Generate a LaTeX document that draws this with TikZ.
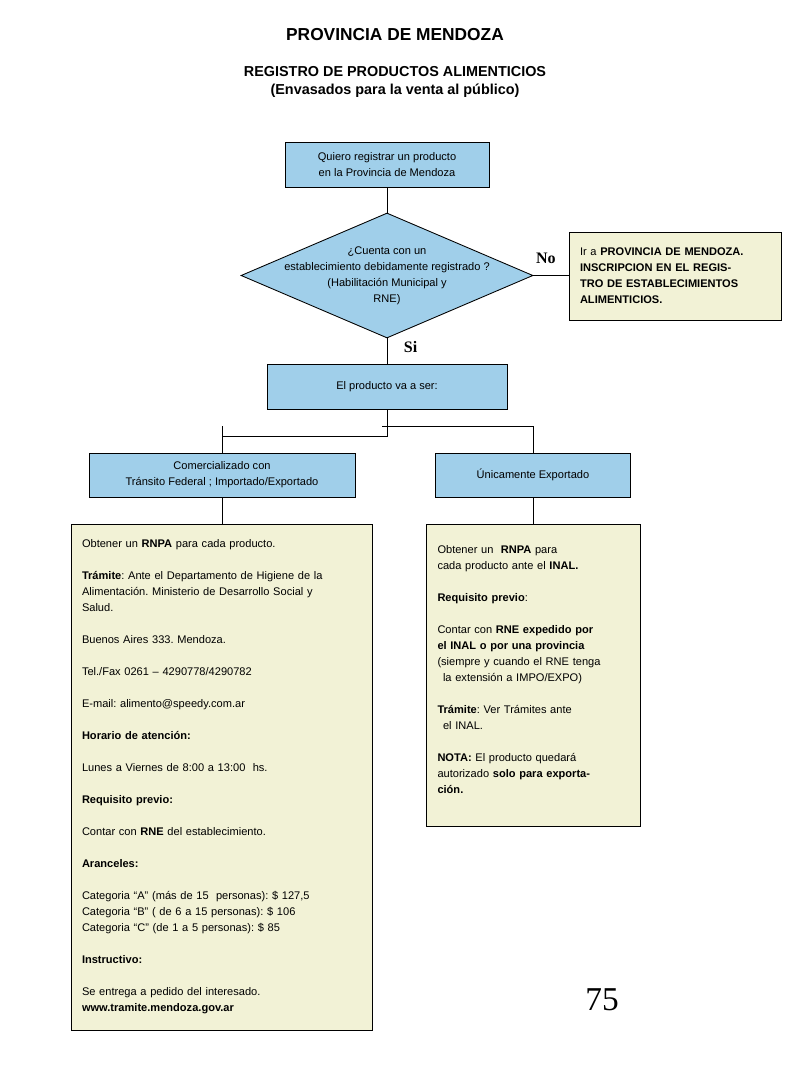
\documentclass[tikz,border=0pt]{standalone}
\usepackage{fontspec}
\setmainfont{Liberation Sans}
\newfontfamily\serifnum{Liberation Serif}
\usetikzlibrary{shapes.geometric}
\frenchspacing

\definecolor{boxblue}{RGB}{160,207,234}
\definecolor{boxyellow}{RGB}{242,242,214}

\tikzset{
  bluebox/.style={draw, line width=0.65pt, fill=boxblue, rectangle, inner sep=0pt, align=center,
    font=\fontsize{8.3}{12}\selectfont},
  infobox/.style={draw, line width=0.65pt, fill=boxyellow, rectangle, inner xsep=8pt, inner ysep=0pt,
    align=left, font=\fontsize{8.3}{12}\selectfont},
  link/.style={line width=0.65pt}
}

\begin{document}
\begin{tikzpicture}[x=0.75pt, y=-0.75pt]
  \useasboundingbox (0,0) rectangle (800,1066);

  % titles
  \node[font=\fontsize{13}{15}\selectfont\bfseries] (title) at (395,35) {PROVINCIA DE MENDOZA};
  \node[font=\fontsize{10.8}{13.5}\selectfont\bfseries, align=center] (subtitle) at (395,82)
    {REGISTRO DE PRODUCTOS ALIMENTICIOS\\(Envasados para la venta al público)};

  % boxes
  \node[bluebox, minimum width=204*0.75pt, minimum height=45*0.75pt] (start) at (387,164.5)
    {Quiero registrar un producto\\en la Provincia de Mendoza};
  \node[draw, line width=0.65pt, fill=boxblue, diamond, inner sep=0pt,
    minimum width=292*0.75pt, minimum height=125*0.75pt] (ask) at (387,275.5) {};
  \node[align=center, font=\fontsize{8.3}{12}\selectfont] (asktext) at (ask.center)
    {¿Cuenta con un\\establecimiento debidamente registrado ?\\(Habilitación Municipal y\\RNE)};
  \node[infobox, text width=191*0.75pt, minimum height=88*0.75pt, font=\fontsize{8.3}{12}\selectfont\bfseries]
    (nobox) at (675.5,276)
    {{\mdseries Ir a} PROVINCIA DE MENDOZA.\\INSCRIPCION EN EL REGIS-\\TRO DE ESTABLECIMIENTOS\\ALIMENTICIOS.};
  \node[bluebox, minimum width=240*0.75pt, minimum height=45*0.75pt] (kind) at (387,386.5)
    {El producto va a ser:};
  \node[bluebox, minimum width=266*0.75pt, minimum height=44*0.75pt] (fed) at (222,475)
    {Comercializado con\\Tránsito Federal ; Importado/Exportado};
  \node[bluebox, minimum width=195*0.75pt, minimum height=44*0.75pt] (exp) at (533,475)
    {Únicamente Exportado};

  \node[infobox, text width=280*0.75pt, minimum height=506*0.75pt] (fedinfo) at (222,777)
    {Obtener un \textbf{RNPA} para cada producto.\\[12pt]
     \textbf{Trámite}: Ante el Departamento de Higiene de la\\
     Alimentación. Ministerio de Desarrollo Social y\\
     Salud.\\[12pt]
     Buenos Aires 333. Mendoza.\\[12pt]
     Tel./Fax 0261 – 4290778/4290782\\[12pt]
     E-mail: alimento@speedy.com.ar\\[12pt]
     \textbf{Horario de atención:}\\[12pt]
     Lunes a Viernes de 8:00 a 13:00~ hs.\\[12pt]
     \textbf{Requisito previo:}\\[12pt]
     Contar con \textbf{RNE} del establecimiento.\\[12pt]
     \textbf{Aranceles:}\\[12pt]
     Categoria “A” (más de 15~ personas): \$ 127,5\\
     Categoria “B” ( de 6 a 15 personas): \$ 106\\
     Categoria “C” (de 1 a 5 personas): \$ 85\\[12pt]
     \textbf{Instructivo:}\\[12pt]
     Se entrega a pedido del interesado.\\
     \textbf{www.tramite.mendoza.gov.ar}};
  \node[infobox, text width=192*0.75pt, minimum height=302*0.75pt] (expinfo) at (533.5,675)
    {Obtener un~ \textbf{RNPA} para\\
     cada producto ante el \textbf{INAL.}\\[12pt]
     \textbf{Requisito previo}:\\[12pt]
     Contar con \textbf{RNE expedido por}\\
     \textbf{el INAL o por una provincia}\\
     (siempre y cuando el RNE tenga\\
     \hphantom{x}la extensión a IMPO/EXPO)\\[12pt]
     \textbf{Trámite}: Ver Trámites ante\\
     \hphantom{x}el INAL.\\[12pt]
     \textbf{NOTA:} El producto quedará\\
     autorizado \textbf{solo para exporta-}\\
     \textbf{ción.}\\[-3pt]
     \mbox{}};

  % joints
  \coordinate (midl) at (387,436);
  \coordinate (left) at (222,436);
  \coordinate (lefttop) at (222,426);
  \coordinate (midr) at (382,426);
  \coordinate (right) at (533,426);

  % arcs
  \draw[link] (start.south) -- (ask.north);
  \draw[link] (ask.east) -- (nobox.west |- ask.east) node[pos=0.35, above=5pt, font=\serifnum\fontsize{12}{14}\selectfont\bfseries] (no) {No};
  \draw[link] (ask.south) -- (kind.north) node[pos=0.35, right=9pt, font=\serifnum\fontsize{12}{14}\selectfont\bfseries] (si) {Si};
  \draw[link] (kind.south) -- (midl) -- (left);
  \draw[link] (lefttop) -- (fed.north);
  \draw[link] (midr) -- (right) -- (right |- exp.north);
  \draw[link] (fed.south) -- (fedinfo.north);
  \draw[link] (exp.south -| right) -- (right |- expinfo.north);

  % page number
  \node[font=\serifnum\fontsize{25}{30}\selectfont] (page) at (602,1000) {75};

\end{tikzpicture}
\end{document}
